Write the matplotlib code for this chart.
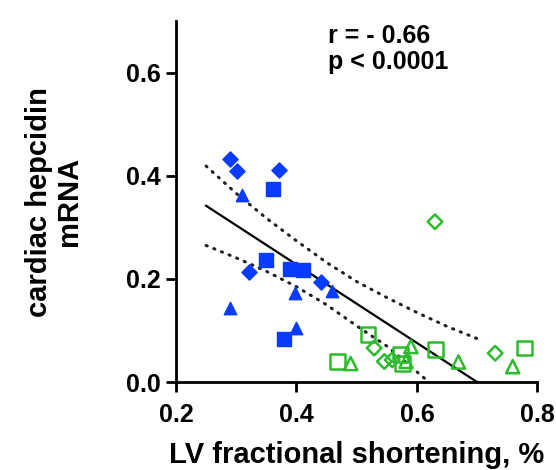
import numpy as np
import matplotlib.pyplot as plt

plt.rcParams['font.family'] = ['Liberation Sans', 'DejaVu Sans']
plt.rcParams['font.weight'] = 'bold'

# blue group (filled markers)
blue_dia_x = [0.290, 0.301, 0.371, 0.321, 0.440]
blue_dia_y = [0.432, 0.409, 0.412, 0.213, 0.195]
blue_sq_x = [0.361, 0.350, 0.390, 0.411, 0.379]
blue_sq_y = [0.375, 0.236, 0.220, 0.218, 0.084]
blue_tri_x = [0.309, 0.289, 0.398, 0.459, 0.400]
blue_tri_y = [0.362, 0.143, 0.173, 0.177, 0.105]

# green group (open markers)
green_dia_x = [0.630, 0.529, 0.730, 0.546, 0.559]
green_dia_y = [0.311, 0.066, 0.056, 0.040, 0.043]
green_sq_x = [0.519, 0.631, 0.779, 0.468, 0.576, 0.573]
green_sq_y = [0.092, 0.063, 0.066, 0.040, 0.036, 0.053]
green_tri_x = [0.759, 0.669, 0.590, 0.490, 0.582]
green_tri_y = [0.030, 0.039, 0.069, 0.036, 0.040]

# regression line and 95% band
fit_x = [0.25, 0.70]
fit_y = [0.342, 0.0]
band_hi_x = [0.25, 0.30, 0.35, 0.40, 0.45, 0.50, 0.55, 0.60, 0.65, 0.705]
band_hi = [0.419, 0.366, 0.318, 0.274, 0.232, 0.195, 0.164, 0.135, 0.108, 0.082]
band_lo_x = [0.25, 0.30, 0.35, 0.40, 0.45, 0.50, 0.55, 0.60, 0.65]
band_lo = [0.265, 0.241, 0.215, 0.185, 0.150, 0.109, 0.070, 0.020, -0.030]

blue = '#0a3cff'
green = '#2cbb2c'

fig = plt.figure(figsize=(5.56, 4.70), dpi=100)
ax = fig.add_axes([0.3165, 0.187, 0.65, 0.768])

ax.scatter(blue_dia_x, blue_dia_y, marker='D', s=60, color=blue, zorder=3)
ax.scatter(blue_sq_x, blue_sq_y, marker='s', s=100, color=blue, zorder=3)
ax.scatter(blue_tri_x, blue_tri_y, marker='^', s=80, color=blue, zorder=3)
ax.scatter(green_dia_x, green_dia_y, marker='D', s=55, facecolors='none', edgecolors=green, linewidths=1.8, zorder=3)
ax.scatter(green_sq_x, green_sq_y, marker='s', s=110, facecolors='none', edgecolors=green, linewidths=1.8, zorder=3)
ax.scatter(green_tri_x, green_tri_y, marker='^', s=90, facecolors='none', edgecolors=green, linewidths=1.8, zorder=3)

ax.plot(fit_x, fit_y, color='black', lw=1.6, zorder=2)
dots = dict(color='#222222', lw=2.2, ls=(0, (0.4, 2.3)), dash_capstyle='round', zorder=2)
ax.plot(band_hi_x, band_hi, **dots)
ax.plot(band_lo_x, band_lo, **dots)

ax.set_xlim(0.2, 0.8)
ax.set_ylim(0.0, 0.7)
ax.set_xticks([0.2, 0.4, 0.6, 0.8])
ax.set_yticks([0.0, 0.2, 0.4, 0.6])
ax.xaxis.set_major_formatter(plt.FormatStrFormatter('%.1f'))
ax.yaxis.set_major_formatter(plt.FormatStrFormatter('%.1f'))
ax.spines['top'].set_visible(False)
ax.spines['right'].set_visible(False)
ax.spines['left'].set_linewidth(2)
ax.spines['bottom'].set_linewidth(2)
ax.tick_params(width=2, length=7, labelsize=18, pad=4)
ax.tick_params(axis='x', pad=8)
ax.set_xlabel('LV fractional shortening, %', fontsize=21, fontweight='bold', labelpad=10)
ax.set_ylabel('cardiac hepcidin\nmRNA', fontsize=21, fontweight='bold', labelpad=31,
              linespacing=1.1)

ax.text(0.453, 0.695, 'r = - 0.66\np < 0.0001', fontsize=18, fontweight='bold',
        va='top', linespacing=1.1)

fig.savefig('out.png', dpi=100)
